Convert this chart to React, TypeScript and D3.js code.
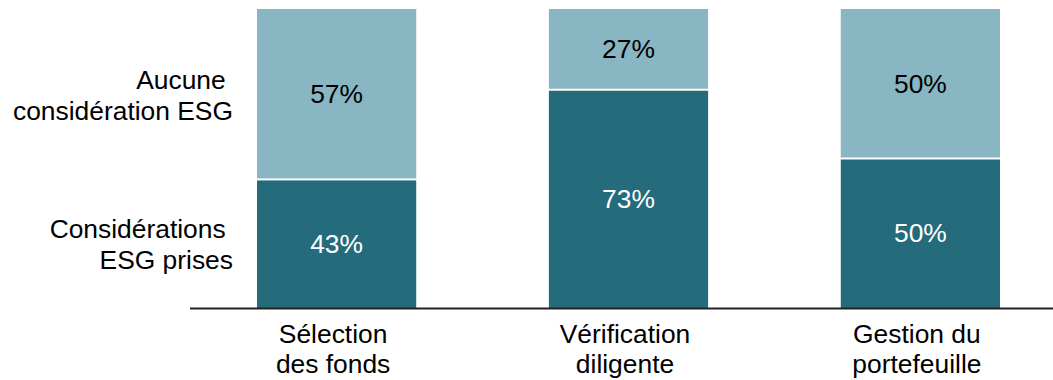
import React from "react";
import * as d3 from "d3";

const categories = [["Sélection", "des fonds"], ["Vérification", "diligente"], ["Gestion du", "portefeuille"]];
const esgTaken = [43, 73, 50];
const noEsg = [57, 27, 50];
const seriesLabels = [["Aucune ", "considération ESG"], ["Considérations ", "ESG prises"]];

const W = 1053;
const H = 380;
const DARK = "#246B7C";
const LIGHT = "#88B6C2";
const FONT = "'Liberation Sans', Arial, sans-serif";

export default function App() {
  const keys = categories.map((c) => c.join(" "));
  const x = d3.scaleBand<string>().domain(keys).range([257, 1000]).paddingInner(0.4545).paddingOuter(0);
  const y = d3.scaleLinear().domain([0, 100]).range([308, 9]);
  const fs = 26.4;
  const bw = x.bandwidth();

  return (
    <svg width={W} height={H} style={{ position: "absolute", left: 0, top: 0, background: "#fff" }} fontFamily={FONT}>
      {keys.map((k, i) => {
        const x0 = x(k)!;
        const cx = x0 + bw / 2;
        const yMid = y(esgTaken[i]);
        const yTop = y(esgTaken[i] + noEsg[i]);
        const y0 = y(0);
        return (
          <g key={k}>
            <rect x={x0} y={yTop} width={bw} height={yMid - yTop - 1} fill={LIGHT} />
            <rect x={x0} y={yMid + 1} width={bw} height={y0 - yMid - 1} fill={DARK} />
            <text x={cx} y={(yTop + yMid) / 2 + 9} textAnchor="middle" fontSize={fs} fill="#000">
              {noEsg[i]}%
            </text>
            <text x={cx} y={(yMid + y0) / 2 + 9} textAnchor="middle" fontSize={fs} fill="#fff">
              {esgTaken[i]}%
            </text>
            {categories[i].map((line, j) => (
              <text key={j} x={cx - 3.5} y={343 + j * 30} textAnchor="middle" fontSize={fs} fill="#000">
                {line}
              </text>
            ))}
          </g>
        );
      })}
      <line x1={190} x2={W} y1={y(0) + 0.5} y2={y(0) + 0.5} stroke="#222" strokeWidth={2} />
      {(() => {
        const lightCenter = (y(100) + y(esgTaken[0])) / 2;
        const darkCenter = (y(esgTaken[0]) + y(0)) / 2;
        const centers = [lightCenter, darkCenter];
        return seriesLabels.map((lines, s) =>
          lines.map((line, j) => (
            <text
              key={`${s}-${j}`}
              x={233}
              y={centers[s] - 5.5 + j * 31}
              textAnchor="end"
              fontSize={fs}
              fill="#000"
              style={{ whiteSpace: "pre" }}
            >
              {line}
            </text>
          ))
        );
      })()}
    </svg>
  );
}
